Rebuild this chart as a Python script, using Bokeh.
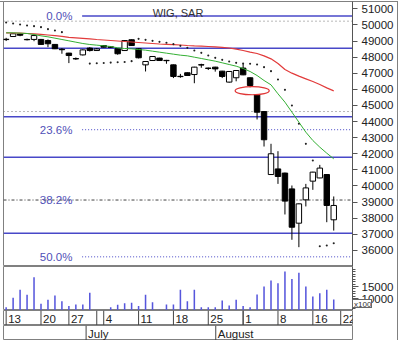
import numpy as np
import pandas as pd
from bokeh.plotting import figure
from bokeh.layouts import column
from bokeh.models import Range1d, LinearAxis, FixedTicker, Label, Div
from bokeh.core.properties import value
from bokeh.embed import file_html
from bokeh.resources import INLINE

# ---------------- data ----------------
dates = ["2011-06-13", "2011-06-14", "2011-06-15", "2011-06-16", "2011-06-17",
         "2011-06-20", "2011-06-21", "2011-06-22", "2011-06-24",
         "2011-06-27", "2011-06-28", "2011-06-29", "2011-06-30", "2011-07-01",
         "2011-07-04", "2011-07-05", "2011-07-06", "2011-07-07", "2011-07-08",
         "2011-07-11", "2011-07-12", "2011-07-13", "2011-07-14", "2011-07-15",
         "2011-07-18", "2011-07-19", "2011-07-20", "2011-07-21", "2011-07-22",
         "2011-07-25", "2011-07-26", "2011-07-27", "2011-07-28", "2011-07-29",
         "2011-08-01", "2011-08-02", "2011-08-03", "2011-08-04", "2011-08-05",
         "2011-08-08", "2011-08-09", "2011-08-10", "2011-08-11", "2011-08-12",
         "2011-08-16", "2011-08-17", "2011-08-18", "2011-08-19", "2011-08-22"]

opens = [49110, 49280, 49440, 49100, 49100, 49100, 49030, 48790, 48490, 48250,
         47910, 48140, 48560, 48410, 48720, 48640, 48520, 48410, 49080, 48520,
         47520, 47790, 47940, 47800, 47520, 46810, 47030, 46920, 47530, 47320,
         47380, 47130, 46450, 46720, 47320, 46720, 45660, 44620, 40710, 41060,
         40800, 39820, 37690, 39140, 40300, 40500, 40710, 37900]
highs = [49200, 49470, 49480, 49150, 49380, 49130, 49100, 48810, 48560, 48270,
         47980, 48480, 48620, 48560, 48750, 48680, 48540, 49060, 49100, 48540,
         47760, 48060, 47960, 47830, 47540, 46960, 47050, 47400, 47590, 47350,
         47400, 47150, 47130, 47200, 47590, 46740, 45700, 44650, 42620, 42160,
         40830, 40030, 38920, 40130, 40880, 41310, 40740, 39350]
lows = [49000, 49260, 49300, 49040, 48990, 48760, 48620, 48500, 48210, 47630,
        47830, 48100, 48350, 48390, 48600, 48570, 48150, 48380, 48700, 47920,
        47110, 47770, 47770, 47590, 46700, 46720, 46840, 46380, 47340, 47200,
        47100, 46700, 46420, 46500, 46880, 46130, 44130, 42450, 40690, 40130,
        38230, 36660, 36200, 38730, 39760, 40480, 37750, 37230]
closes = [49090, 49450, 49360, 49080, 49340, 48790, 48830, 48520, 48460, 48100,
          47890, 48450, 48410, 48510, 48620, 48610, 48210, 49030, 48720, 47960,
          47730, 48040, 47790, 47780, 46800, 46790, 46860, 47380, 47510, 47300,
          47270, 46800, 47110, 47170, 46900, 46240, 44580, 42870, 42000, 40590,
          39060, 37440, 38890, 39880, 40860, 41110, 38790, 38790]

volume = [6600, 10400, 13650, 11600, 18800, 7970, 9600, 11350, 9050, 7030,
          7700, 7700, 12430, 5200, 5300, 6620, 7570, 8240, 8380, 7030,
          11620, 8650, 5540, 7700, 7700, 13650, 9050, 13650, 6620, 6620,
          6620, 9320, 7300, 9600, 7030, 6620, 11760, 15000, 17430, 16350,
          21080, 18100, 20540, 15000, 10950, 12300, 13650, 9730]

nan = float("nan")
sar = [50150, 50090, 50030, 49965, 49924, 49862, 49737, 49655, 49551, nan,
       nan, nan, 47600, 47620, 47640, 47660, 47680, 47700, 47750, 49137,
       49075, 49013, 48951, 48889, 48806, 48702, 48578, 48413, 48268, 48102,
       47957, 47833, 47729, 47647, 47605, 47585, 47543, 47378, 47129, 46612,
       45970, 44997, 43862, 42617, 41582, 36262, 36303, 36448]

ma_short = [49510, 49510, 49489, 49468, 49406, 49323, 49261, 49178, 49096, 49013,
            48930, 48847, 48785, 48744, 48702, 48661, 48578, 48537, 48516, 48475,
            48433, 48371, 48309, 48247, 48185, 48123, 48081, 47998, 47916, 47833,
            47750, 47647, 47543, 47440, 47295, 47108, 46860, 46550, 46280, 45722,
            45204, 44583, 43962, 43341, 42824, 42410, 42037, 41685]

ma_long = [49510, 49499, 49489, 49468, 49448, 49416, 49375, 49334, 49292, 49230,
           49199, 49168, 49137, 49096, 49065, 49034, 49002, 48971, 48940, 48909,
           48878, 48847, 48816, 48795, 48775, 48754, 48723, 48702, 48682, 48661,
           48640, 48609, 48568, 48495, 48413, 48309, 48226, 48081, 47895, 47605,
           47233, 47005, 46819, 46653, 46487, 46301, 46094, 45908]

support_levels = [48557, 44292, 41787, 37066]
dotted_levels = [50234, 44623]
fib_high = 50550
fib_low = 20650
fib_ratios = [0.0, 0.236, 0.382, 0.5]
fib_labels = ["0.0%", "23.6%", "38.2%", "50.0%"]
price_ticks = [36000, 37000, 38000, 39000, 40000, 41000, 42000, 43000,
               44000, 45000, 46000, 47000, 48000, 49000, 50000, 51000]
volume_ticks = [10000, 15000]
volume_minor = list(range(6000, 23000, 1000))
volume_unit = "x100"
chart_title = "WIG, SAR"

# ---------------- derived ----------------
FONT = "Liberation Sans"
BLUE = "#4848c8"
BLUE_TXT = "#5050b8"
FRAME = "#808080"

n = len(opens)
xi = np.arange(n)
o = np.array(opens, float)
h = np.array(highs, float)
lo = np.array(lows, float)
c = np.array(closes, float)
up = c >= o

dts = pd.to_datetime(dates)
wk = dts.isocalendar().week.values
week_idx = [i for i in range(len(dates)) if i == 0 or wk[i] != wk[i - 1]]
week_lbl = [str(dts[i].day) for i in week_idx]
month_idx = [i for i in range(len(dates)) if i > 0 and dts[i].month != dts[i - 1].month]
month_lbl = [dts[i].strftime("%B") for i in month_idx]

PX_DAY = 6.97
X0 = -0.38
X1 = X0 + 349 / PX_DAY
X1_WIDE = X0 + 394 / PX_DAY
MAIN_H = 265
Y0, Y1 = 35000, 51455
V0, V1 = 5250, 23130


def bare(fig):
    fig.grid.visible = False
    fig.border_fill_alpha = 0
    return fig


def common(**kw):
    return dict(output_backend="svg", toolbar_location=None,
                x_axis_location=None, y_axis_location=None, **kw)


# ---------------- main panel ----------------
p = bare(figure(width=400, height=MAIN_H + 1, x_range=Range1d(X0, X1), y_range=Range1d(Y0, Y1),
                **common(min_border_left=3, min_border_right=48, min_border_top=1, min_border_bottom=0)))
p.outline_line_color = FRAME

for lv in support_levels:
    p.segment(x0=X0, y0=lv, x1=X1, y1=lv, line_color=BLUE, line_width=1.5)
for lv in dotted_levels:
    p.segment(x0=X0, y0=lv, x1=X1, y1=lv, line_color="#707070", line_width=1, line_dash="1 3")

fib_vals = [fib_high - r * (fib_high - fib_low) for r in fib_ratios]
FIB_LX = 9.5
FIB_START = 10.9
p.segment(x0=FIB_START, y0=fib_vals[0], x1=X1, y1=fib_vals[0], line_color=BLUE, line_width=1.5)
p.segment(x0=FIB_START, y0=fib_vals[1], x1=X1, y1=fib_vals[1], line_color=BLUE, line_width=1, line_dash="1 2")
p.segment(x0=X0, y0=fib_vals[2], x1=X1, y1=fib_vals[2], line_color="#404040", line_width=1, line_dash="3 2 1 2")
p.segment(x0=FIB_START, y0=fib_vals[3], x1=X1, y1=fib_vals[3], line_color=BLUE, line_width=1, line_dash="1 2")
p.text(x=[FIB_LX] * len(fib_vals), y=fib_vals, text=fib_labels, text_align="right",
       text_baseline="middle", text_font=value(FONT), text_font_size=value("11.5px"),
       text_color=BLUE_TXT)

# candles
p.segment(x0=xi, y0=lo, x1=xi, y1=h, line_color="black", line_width=1)
p.vbar(x=xi[up], width=0.78, top=c[up], bottom=o[up], fill_color="white", line_color="black", line_width=1)
p.vbar(x=xi[~up], width=0.78, top=o[~up], bottom=c[~up], fill_color="black", line_color="black", line_width=1)

# gap highlight between day 35 low and day 36 high
gx = (xi[35] + xi[36]) / 2 - 0.2
gy = (lo[35] + h[36]) / 2
p.ellipse(x=gx, y=gy, width=4.9, height=500, fill_color=None, line_color="#e03535", line_width=1.2)

# moving averages & SAR
p.line(xi, ma_long, line_color="#e23b3b", line_width=1.2)
p.line(xi, ma_short, line_color="#34b034", line_width=1)
p.scatter(xi, sar, size=2.1, marker="circle", fill_color="#222222", line_color=None)

ypp = (Y1 - Y0) / MAIN_H
p.add_layout(Label(x=(X0 + X1) / 2, y=Y1 - 11 * ypp, text=chart_title, text_align="center",
                   text_baseline="middle", text_font=FONT, text_font_size="11px",
                   text_color="#333333"))

yax = LinearAxis(ticker=FixedTicker(ticks=price_ticks, minor_ticks=[]))
yax.axis_line_color = "#555555"
yax.major_tick_line_color = "#555555"
yax.major_tick_out = 5
yax.major_tick_in = 0
yax.minor_tick_line_color = None
yax.major_label_text_font = FONT
yax.major_label_text_font_size = "11.5px"
yax.major_label_text_color = "#222222"
yax.major_label_standoff = 4
p.add_layout(yax, "right")

# ---------------- volume panel ----------------
v = bare(figure(width=400, height=44, x_range=p.x_range, y_range=Range1d(V0, V1),
                **common(min_border_left=3, min_border_right=48, min_border_top=0, min_border_bottom=0)))
v.outline_line_color = FRAME
v.vbar(x=xi, width=0.22, top=volume, bottom=0, fill_color="#5656dc", line_color=None)

vax = LinearAxis(ticker=FixedTicker(ticks=volume_ticks, minor_ticks=volume_minor))
vax.axis_line_color = "#555555"
vax.major_tick_line_color = "#555555"
vax.minor_tick_line_color = "#555555"
vax.major_tick_out = 6
vax.major_tick_in = 0
vax.minor_tick_out = 3
vax.minor_tick_in = 0
vax.major_label_text_font = FONT
vax.major_label_text_font_size = "11.5px"
vax.major_label_text_color = "#222222"
vax.major_label_standoff = 3
v.add_layout(vax, "right")

# ---------------- date row ----------------
d = bare(figure(width=400, height=15, x_range=p.x_range, y_range=Range1d(0, 1),
                **common(min_border_left=3, min_border_right=48, min_border_top=0, min_border_bottom=0)))
d.outline_line_color = FRAME
d.segment(x0=week_idx, y0=0, x1=week_idx, y1=1, line_color="#444444")
d.segment(x0=month_idx, y0=0, x1=month_idx, y1=1, line_color="#444444")
d.text(x=week_idx, y=0.45, text=week_lbl, x_offset=2, text_baseline="middle",
       text_font=value(FONT), text_font_size=value("11.5px"), text_color="#222222")

# ---------------- month row ----------------
m = bare(figure(width=400, height=15, x_range=Range1d(X0, X1_WIDE), y_range=Range1d(0, 1),
                **common(min_border_left=3, min_border_right=3, min_border_top=0, min_border_bottom=0)))
m.outline_line_color = FRAME
m.segment(x0=month_idx, y0=0, x1=month_idx, y1=1, line_color="#444444")
m.text(x=month_idx, y=0.45, text=month_lbl, x_offset=2, text_baseline="middle",
       text_font=value(FONT), text_font_size=value("11.5px"), text_color="#222222")

# volume unit box, overlaid on the volume axis
unit_box = Div(text=volume_unit, width=20, height=9, margin=0,
               styles={"position": "absolute", "left": "352px", "top": "299px",
                       "font-family": FONT, "font-size": "8px", "line-height": "9px",
                       "color": "#333333", "background-color": "#ffffff",
                       "border": "1px solid #666666", "padding": "0 0 0 1px",
                       "z-index": "10", "overflow": "hidden"})

# outer box: right edge and top edge of the axis area (drawn behind transparent borders)
layout = column(p, v, d, m, unit_box, spacing=0,
                styles={"box-shadow": "inset -2px 0 0 0 #ffffff, inset 0 1px 0 0 #ffffff, "
                                      "inset -3px 0 0 0 #808080, inset 0 2px 0 0 #808080",
                        "background-color": "#ffffff", "position": "relative"})
open("out.html", "w").write(file_html(layout, INLINE))
